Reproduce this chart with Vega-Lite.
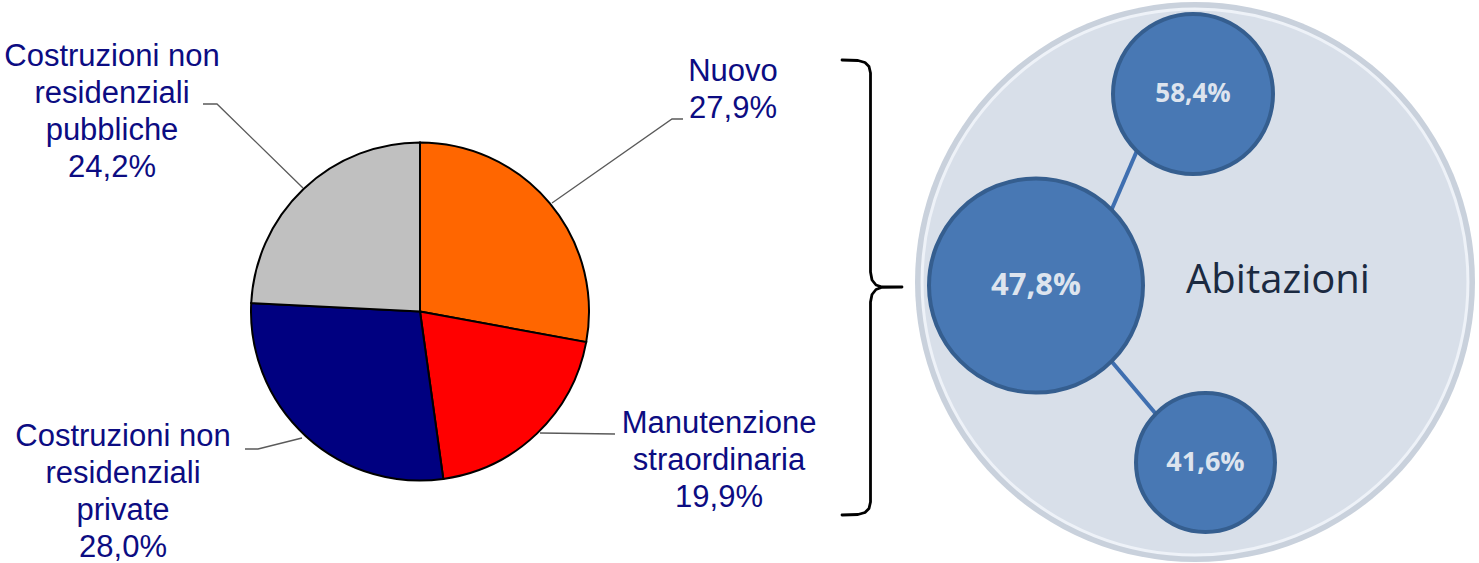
{
  "$schema": "https://vega.github.io/schema/vega-lite/v6.json",
  "width": 1479,
  "height": 563,
  "padding": 0,
  "autosize": {"type": "fit", "contains": "padding"},
  "background": "white",
  "config": {"view": {"stroke": null}},
  "datasets": {
    "pie": [
      {"cat": "Nuovo", "value": 27.9, "ord": 1},
      {"cat": "Manutenzione straordinaria", "value": 19.9, "ord": 2},
      {"cat": "Costruzioni non residenziali private", "value": 28.0, "ord": 3},
      {"cat": "Costruzioni non residenziali pubbliche", "value": 24.2, "ord": 4}
    ],
    "pieLabels": [
      {"label": "Costruzioni non\nresidenziali\npubbliche\n24,2%", "x": 112, "y": 66},
      {"label": "Nuovo\n27,9%", "x": 733, "y": 81},
      {"label": "Manutenzione\nstraordinaria\n19,9%", "x": 719, "y": 433},
      {"label": "Costruzioni non\nresidenziali\nprivate\n28,0%", "x": 123, "y": 446}
    ],
    "leaders": [
      {"g": "pub", "o": 1, "x": 203, "y": 104},
      {"g": "pub", "o": 2, "x": 217, "y": 104},
      {"g": "pub", "o": 3, "x": 303, "y": 188},
      {"g": "nuovo", "o": 1, "x": 683, "y": 119},
      {"g": "nuovo", "o": 2, "x": 672, "y": 119},
      {"g": "nuovo", "o": 3, "x": 552, "y": 203},
      {"g": "man", "o": 1, "x": 540, "y": 433},
      {"g": "man", "o": 2, "x": 615, "y": 434},
      {"g": "priv", "o": 1, "x": 245, "y": 449},
      {"g": "priv", "o": 2, "x": 258, "y": 449},
      {"g": "priv", "o": 3, "x": 302, "y": 438}
    ],
    "brace": [
      {"o": 1, "x": 842, "y": 60},
      {"o": 2, "x": 858, "y": 60.5},
      {"o": 3, "x": 865, "y": 62.5},
      {"o": 4, "x": 869, "y": 66.5},
      {"o": 5, "x": 870.5, "y": 73},
      {"o": 6, "x": 870.5, "y": 272},
      {"o": 7, "x": 872, "y": 280},
      {"o": 8, "x": 876, "y": 285},
      {"o": 9, "x": 882, "y": 287},
      {"o": 10, "x": 902, "y": 287},
      {"o": 11, "x": 882, "y": 287.3},
      {"o": 12, "x": 876, "y": 289.5},
      {"o": 13, "x": 872, "y": 294.5},
      {"o": 14, "x": 870.5, "y": 302},
      {"o": 15, "x": 870.5, "y": 502},
      {"o": 16, "x": 869, "y": 508.5},
      {"o": 17, "x": 865, "y": 512.5},
      {"o": 18, "x": 858, "y": 514.5},
      {"o": 19, "x": 842, "y": 515}
    ],
    "group": [
      {"name": "Abitazioni", "x": 1195, "y": 282, "tx": 1278, "ty": 293}
    ],
    "links": [
      {"link": "top", "o": 1, "x": 1108, "y": 218},
      {"link": "top", "o": 2, "x": 1139, "y": 146},
      {"link": "bottom", "o": 1, "x": 1107, "y": 356},
      {"link": "bottom", "o": 2, "x": 1161, "y": 420}
    ],
    "bubbles": [
      {"label": "58,4%", "x": 1193, "y": 94},
      {"label": "47,8%", "x": 1036, "y": 285.5},
      {"label": "41,6%", "x": 1205.5, "y": 462.5}
    ]
  },
  "layer": [
    {
      "data": {"name": "pie"},
      "mark": {"type": "arc", "radius": 169, "stroke": "black", "strokeWidth": 2},
      "encoding": {
        "theta": {"field": "value", "type": "quantitative", "stack": true},
        "order": {"field": "ord", "type": "quantitative"},
        "color": {
          "field": "cat",
          "type": "nominal",
          "scale": {
            "domain": ["Nuovo", "Manutenzione straordinaria", "Costruzioni non residenziali private", "Costruzioni non residenziali pubbliche"],
            "range": ["#FF6600", "#FF0000", "#000080", "#C0C0C0"]
          },
          "legend": null
        },
        "x": {"datum": 420, "type": "quantitative", "scale": {"domain": [0, 1479], "nice": false, "zero": false}, "axis": null},
        "y": {"datum": 311.5, "type": "quantitative", "scale": {"domain": [0, 563], "nice": false, "zero": false, "reverse": true}, "axis": null}
      }
    },
    {
      "data": {"name": "leaders"},
      "mark": {"type": "line", "color": "#5a5a5a", "strokeWidth": 1.3},
      "encoding": {
        "x": {"field": "x", "type": "quantitative", "axis": null},
        "y": {"field": "y", "type": "quantitative", "axis": null},
        "detail": {"field": "g"},
        "order": {"field": "o", "type": "quantitative"}
      }
    },
    {
      "data": {"name": "pieLabels"},
      "mark": {"type": "text", "font": "Liberation Sans", "fontSize": 31, "lineHeight": 37, "lineBreak": "\n", "align": "center", "baseline": "alphabetic", "color": "#0c0c82"},
      "encoding": {
        "x": {"field": "x", "type": "quantitative", "axis": null},
        "y": {"field": "y", "type": "quantitative", "axis": null},
        "text": {"field": "label"}
      }
    },
    {
      "data": {"name": "brace"},
      "mark": {"type": "line", "color": "black", "strokeWidth": 2.8, "strokeJoin": "round", "strokeCap": "round"},
      "encoding": {
        "x": {"field": "x", "type": "quantitative", "axis": null},
        "y": {"field": "y", "type": "quantitative", "axis": null},
        "order": {"field": "o", "type": "quantitative"}
      }
    },
    {
      "data": {"name": "group"},
      "mark": {"type": "point", "shape": "circle", "filled": true, "opacity": 1, "size": 313600, "color": "#c9d1dc"},
      "encoding": {
        "x": {"field": "x", "type": "quantitative", "axis": null},
        "y": {"field": "y", "type": "quantitative", "axis": null}
      }
    },
    {
      "data": {"name": "group"},
      "mark": {"type": "point", "shape": "circle", "filled": true, "opacity": 1, "size": 298000, "fill": "#d8dfe9", "stroke": "#eef2f8", "strokeWidth": 3},
      "encoding": {
        "x": {"field": "x", "type": "quantitative", "axis": null},
        "y": {"field": "y", "type": "quantitative", "axis": null}
      }
    },
    {
      "data": {"name": "links"},
      "mark": {"type": "line", "color": "#3f6fb0", "strokeWidth": 4},
      "encoding": {
        "x": {"field": "x", "type": "quantitative", "axis": null},
        "y": {"field": "y", "type": "quantitative", "axis": null},
        "detail": {"field": "link"},
        "order": {"field": "o", "type": "quantitative"}
      }
    },
    {
      "data": {"name": "bubbles"},
      "mark": {"type": "point", "shape": "circle", "filled": true, "opacity": 1, "fill": "#4878b4", "stroke": "#355e8f", "strokeWidth": 4},
      "encoding": {
        "x": {"field": "x", "type": "quantitative", "axis": null},
        "y": {"field": "y", "type": "quantitative", "axis": null},
        "size": {"field": "label", "type": "nominal", "scale": {"type": "ordinal", "domain": ["58,4%", "47,8%", "41,6%"], "range": [25600, 45796, 19321]}, "legend": null}
      }
    },
    {
      "data": {"name": "bubbles"},
      "mark": {"type": "text", "font": "Open Sans", "fontWeight": "bold", "align": "center", "baseline": "middle", "color": "#dde4ee"},
      "encoding": {
        "x": {"field": "x", "type": "quantitative", "axis": null},
        "y": {"field": "y", "type": "quantitative", "axis": null},
        "text": {"field": "label"},
        "size": {"field": "label", "type": "nominal", "scale": {"type": "ordinal", "domain": ["58,4%", "47,8%", "41,6%"], "range": [26, 31, 27]}, "legend": null}
      }
    },
    {
      "data": {"name": "group"},
      "mark": {"type": "text", "font": "Open Sans", "fontSize": 40, "align": "center", "baseline": "alphabetic", "color": "#1b2a41"},
      "encoding": {
        "x": {"field": "tx", "type": "quantitative", "axis": null},
        "y": {"field": "ty", "type": "quantitative", "axis": null},
        "text": {"field": "name"}
      }
    }
  ],
  "resolve": {"scale": {"size": "independent"}}
}
